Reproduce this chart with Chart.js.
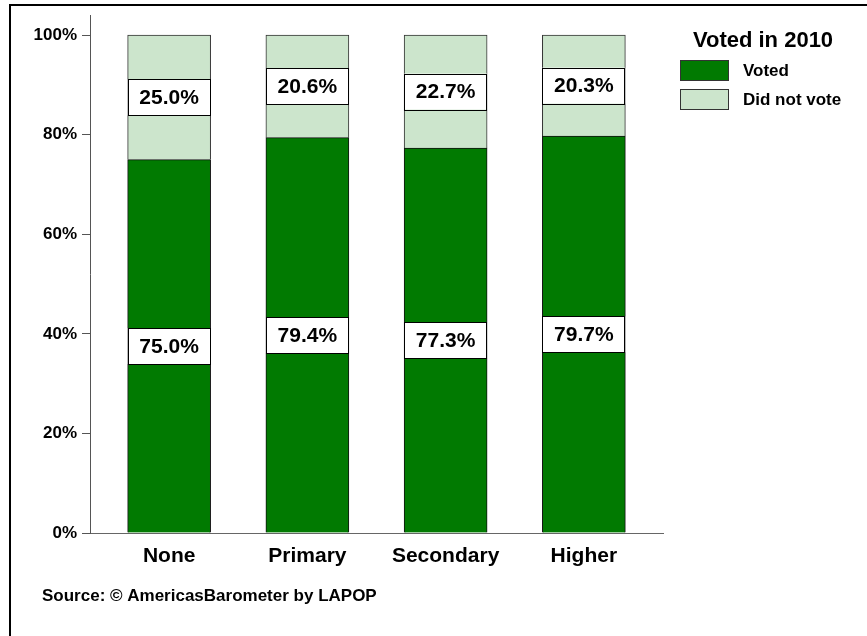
<!DOCTYPE html>
<html>
<head>
<meta charset="utf-8">
<script src="https://cdn.jsdelivr.net/npm/chart.js@4"></script>
<style>
  html, body { margin: 0; padding: 0; background: #fff; overflow: hidden; }
  #wrap { position: relative; width: 867px; height: 636px; }
</style>
</head>
<body>
<div id="wrap"><canvas id="voteChart" width="867" height="636"></canvas></div>
<script>
const categories = ["None", "Primary", "Secondary", "Higher"];
const voted = [75.0, 79.4, 77.3, 79.7];
const didNotVote = [25.0, 20.6, 22.7, 20.3];
const yTicks = [0, 20, 40, 60, 80, 100];
const legendTitle = "Voted in 2010";
const sourceText = "Source: \u00A9 AmericasBarometer by LAPOP";

const FONT = "'Liberation Sans', Arial, sans-serif";

// value boxes on each bar segment
const valueBoxes = {
    id: "valueBoxes",
    afterDatasetsDraw(chart) {
        const ctx = chart.ctx;
        ctx.save();
        chart.data.datasets.forEach((ds, di) => {
            chart.getDatasetMeta(di).data.forEach((bar, i) => {
                const p = bar.getProps(["x", "y", "base", "width"], true);
                const cy = (p.y + p.base) / 2;
                const h = 36;
                ctx.fillStyle = "#fff";
                ctx.fillRect(p.x - p.width / 2, cy - h / 2, p.width, h);
                ctx.strokeStyle = "#000";
                ctx.lineWidth = 1;
                ctx.strokeRect(Math.round(p.x - p.width / 2) + 0.5, Math.round(cy - h / 2) + 0.5, Math.round(p.width) - 1, h);
                ctx.fillStyle = "#000";
                ctx.font = "bold 21px " + FONT;
                ctx.textAlign = "center";
                ctx.textBaseline = "middle";
                ctx.fillText(ds.data[i].y.toFixed(1) + "%", p.x, cy + 1);
            });
        });
        ctx.restore();
    }
};

// legend, source note and frame
const decorations = {
    id: "decorations",
    afterDraw(chart) {
        const ctx = chart.ctx;
        ctx.save();
        ctx.fillStyle = "#000";
        ctx.textBaseline = "middle";

        ctx.font = "bold 22px " + FONT;
        ctx.textAlign = "center";
        ctx.fillText(legendTitle, 763, 41);

        ctx.font = "bold 17px " + FONT;
        ctx.textAlign = "left";
        chart.data.datasets.forEach((ds, i) => {
            const top = 60 + i * 29;
            ctx.fillStyle = ds.backgroundColor;
            ctx.fillRect(680, top, 49, 21);
            ctx.strokeStyle = "#333";
            ctx.lineWidth = 1;
            ctx.strokeRect(680.5, top + 0.5, 48, 20);
            ctx.fillStyle = "#000";
            ctx.fillText(ds.label, 743, top + 11);
        });

        ctx.font = "bold 17px " + FONT;
        ctx.fillText(sourceText, 42, 596);

        ctx.fillRect(9, 4, 900, 2);
        ctx.fillRect(9, 4, 2, 700);
        ctx.restore();
    }
};

const ctx = document.getElementById("voteChart").getContext("2d");
new Chart(ctx, {
    type: "bar",
    data: {
        datasets: [
            {
                label: "Voted",
                data: voted.map((v, i) => ({ x: i, y: v })),
                backgroundColor: "#017a01",
                borderColor: "#111",
                borderWidth: 1,
                barThickness: 83
            },
            {
                label: "Did not vote",
                data: didNotVote.map((v, i) => ({ x: i, y: v })),
                backgroundColor: "#cce5cc",
                borderColor: "#333",
                borderWidth: 1,
                barThickness: 83
            }
        ]
    },
    options: {
        responsive: false,
        animation: false,
        layout: { padding: { left: 0, right: 204, top: 15, bottom: 0 } },
        plugins: {
            legend: { display: false },
            tooltip: { enabled: false }
        },
        scales: {
            x: {
                type: "linear",
                stacked: true,
                offset: false,
                min: -0.5725,
                max: 3.5725,
                afterBuildTicks: scale => { scale.ticks = categories.map((c, i) => ({ value: i })); },
                afterFit: scale => { scale.height = 103; },
                grid: { drawOnChartArea: false, drawTicks: false },
                border: { color: "#666", width: 1 },
                ticks: {
                    padding: 11,
                    color: "#000",
                    font: { family: FONT, size: 21, weight: "bold" },
                    callback: v => categories[v]
                }
            },
            y: {
                stacked: true,
                min: 0,
                max: 104,
                afterBuildTicks: scale => { scale.ticks = yTicks.map(v => ({ value: v })); },
                afterFit: scale => { scale.width = 90; },
                grid: { drawOnChartArea: false, drawTicks: true, tickLength: 8, color: "#555" },
                border: { color: "#555", width: 1 },
                ticks: {
                    padding: 5,
                    color: "#000",
                    font: { family: FONT, size: 17, weight: "bold" },
                    callback: v => v + "%"
                }
            }
        }
    },
    plugins: [valueBoxes, decorations]
});
</script>
</body>
</html>
